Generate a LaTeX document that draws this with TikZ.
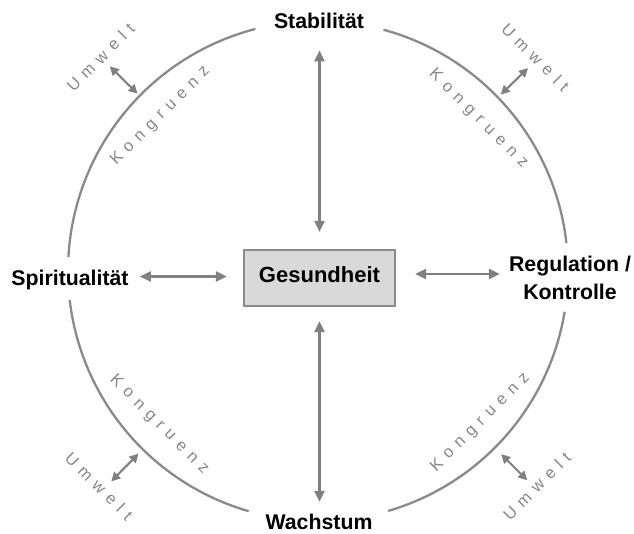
\documentclass[tikz,border=0pt]{standalone}
\usepackage{fontspec}
\setmainfont{Liberation Sans}
\usetikzlibrary{arrows.meta,calc}
\definecolor{linegray}{HTML}{8A8A8A}
\definecolor{arrowgray}{HTML}{808080}
\definecolor{textgray}{HTML}{878787}
\definecolor{boxfill}{HTML}{D9D9D9}
\newcommand\lgap{\kern6.6pt}
\newcommand\kongtext{K\lgap o\lgap n\lgap g\lgap r\lgap u\lgap e\lgap n\lgap z}
\newcommand\umwtext{U\lgap m\lgap w\lgap e\lgap l\lgap t}
\tikzset{
  lbl/.style={font=\fontsize{21.3}{28}\selectfont\bfseries, inner sep=0pt, text=black},
  gesbox/.style={draw=linegray, line width=2.2pt, fill=boxfill, minimum width=151pt, minimum height=56pt,
     inner sep=0pt, font=\fontsize{22}{26}\selectfont\bfseries, text depth=7pt},
  circ/.style={draw=linegray, line width=2.3pt},
  arr/.style={draw=arrowgray, line width=2.3pt, {Triangle[length=11pt,width=10pt]}-{Triangle[length=11pt,width=10pt]}},
  sarr/.style={draw=arrowgray, line width=2.1pt, {Triangle[length=9pt,width=9pt]}-{Triangle[length=9pt,width=9pt]}},
  grtxt/.style={font=\fontsize{16.5}{18}\selectfont, text=textgray, inner sep=0pt}
}
\begin{document}
\begin{tikzpicture}[x=1pt,y=1pt]
\useasboundingbox (0,0) rectangle (634,533);
\coordinate (C) at (318,262);
% circle arcs
\draw[circ] ($(C)+(6.4:250)$) arc[start angle=6.4, end angle=74.8, radius=250];
\draw[circ] ($(C)+(104.5:250)$) arc[start angle=104.5, end angle=176.8, radius=250];
\draw[circ] ($(C)+(186.7:250)$) arc[start angle=186.7, end angle=253.9, radius=250];
\draw[circ] ($(C)+(286.3:250)$) arc[start angle=286.3, end angle=350.6, radius=250];
% labels
\node[lbl, anchor=base] (stab) at (319,504) {Stabilität};
\node[lbl, anchor=base] (wachs) at (319,4) {Wachstum};
\node[lbl, anchor=base] (spir) at (70,247) {Spiritualität};
\node[lbl, align=center] (reg) at (570,254.7) {Regulation /\\Kontrolle};
\node[gesbox] (ges) at (319.5,255) {Gesundheit};
% main arrows
\draw[arr, shorten <=17pt, shorten >=21pt] (ges.north) -- (ges.north |- stab.south);
\draw[arr, shorten <=14pt, shorten >=11.5pt] (ges.south) -- (ges.south |- wachs.north);
\draw[arr, shorten <=16pt, shorten >=11pt] ([yshift=1.5pt]ges.west) -- ([yshift=1.5pt]ges.west -| spir.east);
\draw[arr, shorten <=19pt, shorten >=9pt] ([yshift=4pt]ges.east) -- ([yshift=4pt]ges.east -| reg.west);
% Kongruenz / Umwelt
\node[grtxt, rotate=45] (k1) at ($(C)+(135.5:221)$) {\kongtext};
\node[grtxt, rotate=-45] (k2) at ($(C)+(43.5:221)$) {\kongtext};
\node[grtxt, rotate=-45] (k3) at ($(C)+(224:221)$) {\kongtext};
\node[grtxt, rotate=45] (k4) at ($(C)+(317:222)$) {\kongtext};
\node[grtxt, rotate=45] (u1) at ($(C)+(135.5:305)$) {\umwtext};
\node[grtxt, rotate=-45] (u2) at ($(C)+(44.5:305)$) {\umwtext};
\node[grtxt, rotate=-45] (u3) at ($(C)+(224.5:307)$) {\umwtext};
\node[grtxt, rotate=45] (u4) at ($(C)+(315.5:307)$) {\umwtext};
% small arrows
\coordinate (a1i) at ($(C)+(135.5:253)$); \coordinate (a1o) at ($(C)+(135.5:292)$);
\coordinate (a2i) at ($(C)+(44:254)$);    \coordinate (a2o) at ($(C)+(44:292)$);
\coordinate (a3i) at ($(C)+(225.5:256)$); \coordinate (a3o) at ($(C)+(225.5:295)$);
\coordinate (a4i) at ($(C)+(315:259)$);   \coordinate (a4o) at ($(C)+(315:296)$);
\draw[sarr] (a1i) -- (a1o);
\draw[sarr] (a2i) -- (a2o);
\draw[sarr] (a3i) -- (a3o);
\draw[sarr] (a4i) -- (a4o);
\end{tikzpicture}
\end{document}
